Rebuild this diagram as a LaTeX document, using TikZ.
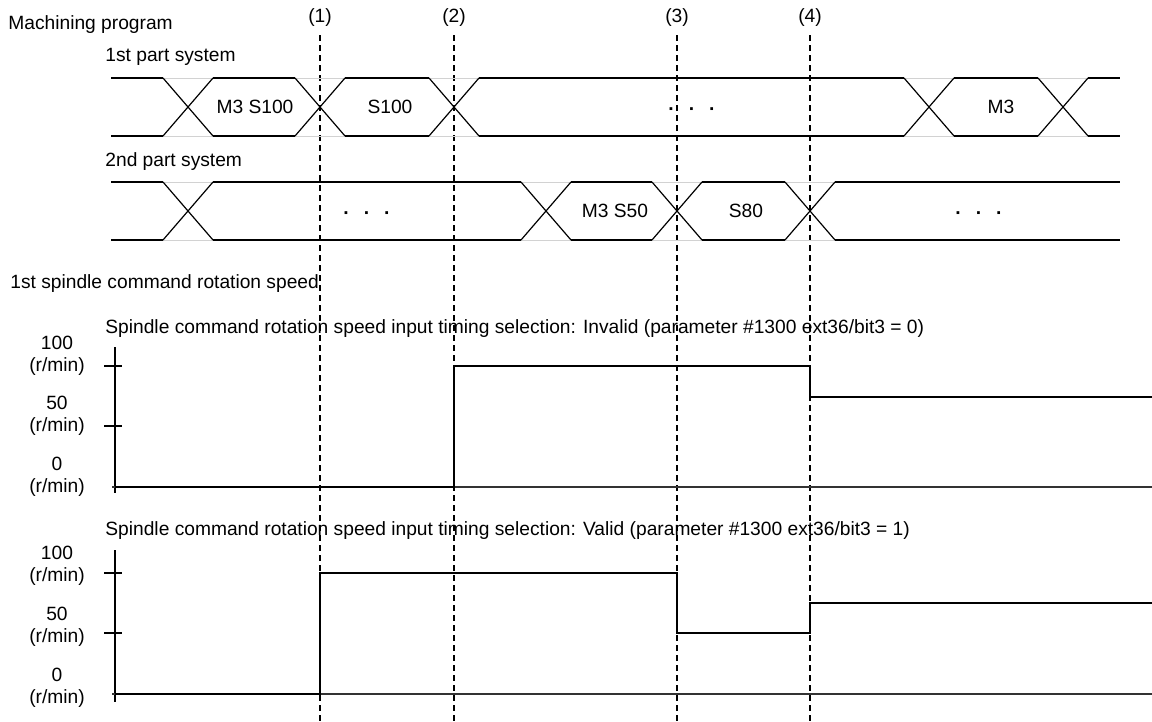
\documentclass[tikz,border=0pt]{standalone}
\usepackage{fontspec}
\setmainfont{Liberation Sans}
\usetikzlibrary{positioning}

\begin{document}
\begin{tikzpicture}[x=0.5pt, y=-0.5pt,
  lbl/.style={font=\fontsize{9.6}{11}\selectfont, inner sep=0pt},
  unit/.style={lbl, align=center},
  dots/.style={lbl, font=\fontsize{9.6}{11}\selectfont\bfseries},
  bus/.style={line width=0.6pt},
  faint/.style={gray!35, line width=0.3pt},
  guide/.style={dash pattern=on 3pt off 2pt, line width=0.9pt},
  axis/.style={line width=0.6pt},
  sig/.style={line width=1.4pt}]
  \useasboundingbox (0,0) rectangle (1152,722);

  \node[lbl, anchor=west] (mp) at (8,25) {Machining program};
  \node[lbl, anchor=west] (ps1) at (105,57) {1st part system};
  \node[lbl, anchor=west] (ps2) at (105,162) {2nd part system};

  % timing marks
  \foreach \i/\x in {1/320,2/454,3/677,4/810} {
    \node[lbl] (t\i) at (\x,18) {(\i)};
    \coordinate (b\i) at (\x,722);
    \draw[guide] ([yshift=-4pt]t\i.south) -- (b\i);
  }

  % 1st part system
  \draw[faint] (111,78) -- (1120,78) (111,136) -- (1120,136);
  \foreach \c in {188,320,454,929,1063}
    \draw[bus] (\c-25,78) -- (\c+25,136) (\c-25,136) -- (\c+25,78);
  \foreach \a/\b in {111/163,213/295,345/429,479/904,954/1038,1088/1120}
    \draw[bus] (\a,78) -- (\b,78) (\a,136) -- (\b,136);
  \node[lbl] (c11) at (255,107) {M3 S100};
  \node[lbl] (c12) at (390,107) {S100};
  \node[dots] (c13) at (692,112) {·\hspace{7pt}·\hspace{7pt}·};
  \node[lbl] (c14) at (1001,107) {M3};

  % 2nd part system
  \draw[faint] (111,182) -- (1120,182) (111,240) -- (1120,240);
  \foreach \c in {188,546,677,810}
    \draw[bus] (\c-25,182) -- (\c+25,240) (\c-25,240) -- (\c+25,182);
  \foreach \a/\b in {111/163,213/521,571/652,702/785,835/1120}
    \draw[bus] (\a,182) -- (\b,182) (\a,240) -- (\b,240);
  \node[dots] (c21) at (367,216) {·\hspace{7pt}·\hspace{7pt}·};
  \node[lbl] (c22) at (615,211) {M3 S50};
  \node[lbl] (c23) at (746,211) {S80};
  \node[dots] (c24) at (979,216) {·\hspace{7pt}·\hspace{7pt}·};

  \node[lbl, anchor=west] (sp) at (10,284) {1st spindle command rotation speed};

  % invalid
  \node[lbl, anchor=west] (h1) at (105,329) {Spindle command rotation speed input timing selection: Invalid (parameter \#1300 ext36/bit3 = 0)};
  \node[unit] (ua100) at (57,356) {100\\(r/min)};
  \node[unit] (ua50) at (57,416) {50\\(r/min)};
  \node[unit] (ua0) at (57,477) {0\\(r/min)};
  \draw[axis] (115,347) -- (115,493) (104,366) -- (122,366) (104,426) -- (122,426);
  \draw[axis, black!80] (112,487) -- (1152,487);
  \draw[sig] (115,487) -- (454,487) -- (454,366) -- (810,366) -- (810,397) -- (1152,397);

  % valid
  \node[lbl, anchor=west] (h2) at (105,531) {Spindle command rotation speed input timing selection: Valid (parameter \#1300 ext36/bit3 = 1)};
  \node[unit] (ub100) at (57,566) {100\\(r/min)};
  \node[unit] (ub50) at (57,627) {50\\(r/min)};
  \node[unit] (ub0) at (57,688) {0\\(r/min)};
  \draw[axis] (115,550) -- (115,702) (104,573) -- (122,573) (104,633) -- (122,633);
  \draw[axis, black!80] (112,694) -- (1152,694);
  \draw[sig] (115,694) -- (320,694) -- (320,573) -- (677,573) -- (677,633) -- (810,633) -- (810,603) -- (1152,603);
\end{tikzpicture}
\end{document}
